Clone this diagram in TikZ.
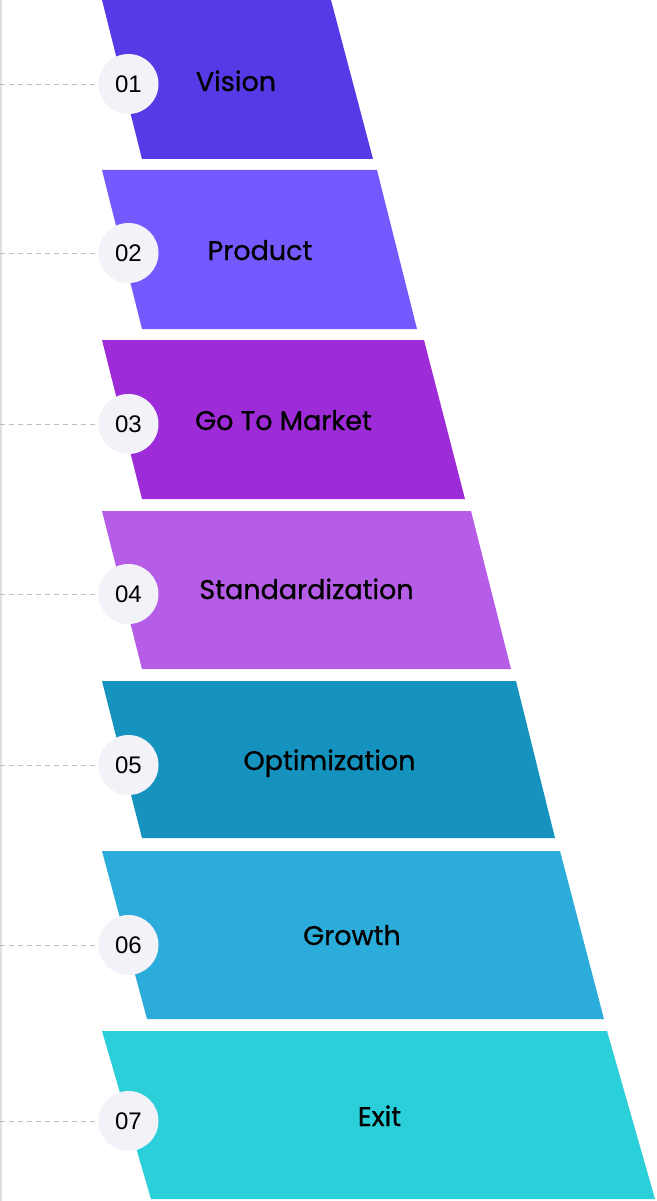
\documentclass[tikz,border=0pt]{standalone}
\usepackage{fontspec}
\newfontfamily\labelfont[FakeBold=0.8]{Poppins}
\newfontfamily\numfont{Liberation Sans}
\definecolor{cA}{RGB}{85,58,230}
\definecolor{cB}{RGB}{117,89,255}
\definecolor{cC}{RGB}{157,43,216}
\definecolor{cD}{RGB}{181,93,230}
\definecolor{cE}{RGB}{21,147,190}
\definecolor{cF}{RGB}{44,172,218}
\definecolor{cG}{RGB}{43,207,218}
\definecolor{circfill}{RGB}{243,242,248}
\definecolor{dashgray}{RGB}{190,190,190}
\definecolor{edgegray}{RGB}{222,222,222}
\begin{document}
\begin{tikzpicture}[x=1pt,y=-1pt,
  bandlabel/.style={anchor=base,inner sep=0pt,font=\labelfont\fontsize{27}{32}\selectfont,text=black},
  numcirc/.style={circle,fill=circfill,minimum size=60pt,inner sep=0pt},
  numtext/.style={anchor=base,inner sep=0pt,font=\numfont\fontsize{24}{28}\selectfont,text=black},
  leader/.style={draw=dashgray,line width=0.8pt,dash pattern=on 5pt off 4pt}]
\useasboundingbox (0,0) rectangle (656,1201);
\draw[edgegray,line width=1.6pt] (1,0) -- (1,1201);
% bands
\fill[cA] (102,0) -- (331,0) -- (373,159) -- (142,159) -- cycle;
\fill[cB] (102,170) -- (377,170) -- (417,329) -- (142,329) -- cycle;
\fill[cC] (102,340) -- (424,340) -- (465,499) -- (142,499) -- cycle;
\fill[cD] (102,511) -- (471,511) -- (511,669) -- (142,669) -- cycle;
\fill[cE] (102,681) -- (516,681) -- (555,838) -- (142,838) -- cycle;
\fill[cF] (102,851) -- (560,851) -- (604,1019) -- (147,1019) -- cycle;
\fill[cG] (102,1031) -- (607,1031) -- (655,1199) -- (151,1199) -- cycle;
% labels
\node[bandlabel] (l1) at (236,91) {Vision};
\node[bandlabel] (l2) at (260,260) {Product};
\node[bandlabel] (l3) at (283.5,430) {Go To Market};
\node[bandlabel] (l4) at (306.5,599) {Standardization};
\node[bandlabel] (l5) at (329.5,770) {Optimization};
\node[bandlabel] (l6) at (352,945) {Growth};
\node[bandlabel] (l7) at (379.5,1126) {Exit};
% circles, leaders
\foreach \i/\y in {1/84,2/253,3/424,4/594,5/765,6/945,7/1121}{
  \coordinate (s\i) at (0,\y);
  \node[numcirc] (c\i) at (128.5,\y) {};
  \draw[leader] (s\i) -- (c\i.west);
  \node[numtext] (n\i) at (128.5,\y+8.5) {0\i};
}
\end{tikzpicture}
\end{document}
